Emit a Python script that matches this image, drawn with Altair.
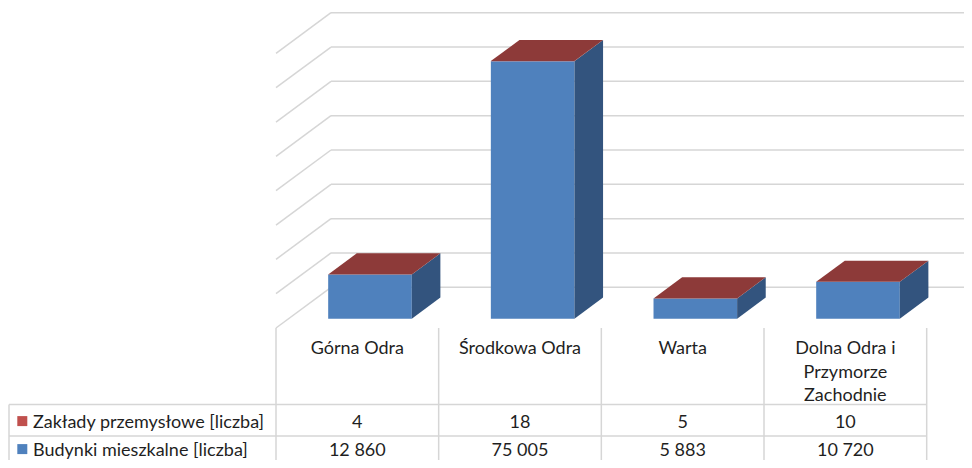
import altair as alt
import pandas as pd

# ---------------- data ----------------
categories = ["Górna Odra", "Środkowa Odra", "Warta", "Dolna Odra i\nPrzymorze\nZachodnie"]
series_names = ["Zakłady przemysłowe [liczba]", "Budynki mieszkalne [liczba]"]
zaklady = [4, 18, 5, 10]
budynki = [12860, 75005, 5883, 10720]
y_ticks = [0, 10000, 20000, 30000, 40000, 50000, 60000, 70000, 80000]

# ---------------- style / layout ----------------
FONT = "Lato"
FS = 18
TEXT_COLOR = "#1F1F1F"
GRID = "#D6D6D6"
FRONT = {series_names[1]: "#4F81BD", series_names[0]: "#C0504D"}
SIDE = {series_names[1]: "#33547E", series_names[0]: "#7E3332"}
TOP = "#8D3A39"
LEGEND = {series_names[0]: "#C0504D", series_names[1]: "#4F81BD"}

W, H = 956, 452
COL_W = 162.67          # pixel width of one category column
BACK_X0 = 323.0         # chart-x of the back wall left edge
Y0_PX, YTOP_PX = 279.3, 4.7   # chart-y of 0 and of 80000 on the back wall
WALL_DX_PX, WALL_DY_PX = 55.0, 40.7
px_per_val = (Y0_PX - YTOP_PX) / (y_ticks[-1] - y_ticks[0])
DXU = WALL_DX_PX / COL_W          # depth shift in category units
DYV = WALL_DY_PX / px_per_val     # depth shift in value units
BH = 0.257                        # half bar width (category units)
FF, FB = 0.77, 0.25               # depth of bar front / back face (0 = back wall, 1 = front)

xs = alt.Scale(domain=[0, 4], range=[BACK_X0, BACK_X0 + 4 * COL_W], nice=False, zero=False)
ys = alt.Scale(domain=[y_ticks[0], y_ticks[-1]], range=[Y0_PX, YTOP_PX], nice=False, zero=False)

# ---------------- geometry tables built from data ----------------
front_rows, side_rows, top_rows = [], [], []
for i, cat in enumerate(categories):
    xc = i + 0.5
    cum = 0
    for s, vals in [(series_names[1], budynki), (series_names[0], zaklady)]:
        v = vals[i]
        y0, y1 = cum, cum + v
        cum = y1
        front_rows.append(dict(series=s, x=xc - BH - FF * DXU, x2=xc + BH - FF * DXU,
                               y=y0 - FF * DYV, y2=y1 - FF * DYV))
        key = f"{i}-{s}"
        side_rows.append(dict(key=key, series=s, x=xc + BH - FF * DXU, y=y0 - FF * DYV, y2=y1 - FF * DYV))
        side_rows.append(dict(key=key, series=s, x=xc + BH - FB * DXU, y=y0 - FB * DYV, y2=y1 - FB * DYV))
    top_rows.append(dict(bar=i, y=cum - FF * DYV, x=xc - BH - FF * DXU, x2=xc + BH - FF * DXU))
    top_rows.append(dict(bar=i, y=cum - FB * DYV, x=xc - BH - FB * DXU, x2=xc + BH - FB * DXU))

front_df = pd.DataFrame(front_rows)
side_df = pd.DataFrame(side_rows)
top_df = pd.DataFrame(top_rows)

grid_df = pd.DataFrame({"v": y_ticks, "x": [0] * len(y_ticks), "x2": [4] * len(y_ticks)})
diag_df = pd.DataFrame({"v": y_ticks, "x": [0] * len(y_ticks),
                        "x2": [-DXU] * len(y_ticks), "v2": [t - DYV for t in y_ticks]})

# ---------------- layers ----------------
grid = alt.Chart(grid_df).mark_rule(color=GRID, strokeWidth=1.5).encode(
    x=alt.X("x:Q", scale=xs, axis=None), x2="x2:Q",
    y=alt.Y("v:Q", scale=ys, axis=None))

diag = alt.Chart(diag_df).mark_rule(color=GRID, strokeWidth=1.5).encode(
    x=alt.X("x:Q", scale=xs, axis=None), x2="x2:Q",
    y=alt.Y("v:Q", scale=ys, axis=None), y2="v2:Q")

front = alt.Chart(front_df).mark_rect().encode(
    x=alt.X("x:Q", scale=xs, axis=None), x2="x2:Q",
    y=alt.Y("y:Q", scale=ys, axis=None), y2="y2:Q",
    color=alt.Color("series:N", scale=alt.Scale(domain=list(FRONT.keys()), range=list(FRONT.values())), legend=None))

side = alt.Chart(side_df).mark_area(orient="vertical", opacity=1).encode(
    x=alt.X("x:Q", scale=xs, axis=None),
    y=alt.Y("y:Q", scale=ys, axis=None), y2="y2:Q",
    detail="key:N",
    fill=alt.Fill("series:N", scale=alt.Scale(domain=list(SIDE.keys()), range=list(SIDE.values())), legend=None))

top = alt.Chart(top_df).mark_area(orient="horizontal", color=TOP, opacity=1).encode(
    y=alt.Y("y:Q", scale=ys, axis=None),
    x=alt.X("x:Q", scale=xs, axis=None), x2="x2:Q",
    detail="bar:N")

# ---------------- data table ----------------
ROW1_Y, ROW2_Y, ROW3_Y = 320.0, 396.5, 428.0
HDR_BASE, HDR_LH = 346.0, 23.5
R1_BASE, R2_BASE = 419.5, 447.5

col_edges = pd.DataFrame({"x": [k - DXU for k in range(5)]})
vlines = alt.Chart(col_edges).mark_rule(color=GRID, strokeWidth=1.5).encode(
    x=alt.X("x:Q", scale=xs, axis=None), y=alt.value(ROW1_Y), y2=alt.value(H))

right_px = BACK_X0 + 4 * COL_W - WALL_DX_PX
hl_df = pd.DataFrame({"y": [ROW2_Y, ROW3_Y]})
hlines = alt.Chart(hl_df).mark_rule(color=GRID, strokeWidth=1.5).encode(
    x=alt.value(1), x2=alt.value(right_px), y=alt.Y("y:Q", scale=None))
leftline = alt.Chart(pd.DataFrame({"a": [0]})).mark_rule(color=GRID, strokeWidth=1.5).encode(
    x=alt.value(1), y=alt.value(ROW2_Y), y2=alt.value(H))

hdr_df = pd.DataFrame({"x": [i + 0.5 - DXU for i in range(4)], "t": categories})
header = alt.Chart(hdr_df).mark_text(font=FONT, fontSize=FS, color=TEXT_COLOR, align="center",
                                     baseline="alphabetic", lineBreak="\n", lineHeight=HDR_LH).encode(
    x=alt.X("x:Q", scale=xs, axis=None), y=alt.value(HDR_BASE), text="t:N")


def fmt(v):
    return f"{v:,}".replace(",", " ")


val_rows = []
for i in range(4):
    val_rows.append(dict(x=i + 0.5 - DXU, y=R1_BASE, t=fmt(zaklady[i])))
    val_rows.append(dict(x=i + 0.5 - DXU, y=R2_BASE, t=fmt(budynki[i])))
vals = alt.Chart(pd.DataFrame(val_rows)).mark_text(font=FONT, fontSize=FS, color=TEXT_COLOR,
                                                   align="center", baseline="alphabetic").encode(
    x=alt.X("x:Q", scale=xs, axis=None), y=alt.Y("y:Q", scale=None), text="t:N")

leg_df = pd.DataFrame({"series": series_names, "y": [R1_BASE, R2_BASE],
                       "ys": [R1_BASE - 6.4, R2_BASE - 6.4]})
leg_sq = alt.Chart(leg_df).mark_square(size=100, opacity=1).encode(
    x=alt.value(14.3), y=alt.Y("ys:Q", scale=None),
    color=alt.Color("series:N", scale=alt.Scale(domain=list(LEGEND.keys()), range=list(LEGEND.values())), legend=None))
leg_tx = alt.Chart(leg_df).mark_text(font=FONT, fontSize=FS, color=TEXT_COLOR, align="left",
                                     baseline="alphabetic").encode(
    x=alt.value(25), y=alt.Y("y:Q", scale=None), text="series:N")

chart = alt.layer(grid, diag, front, side, top, vlines, hlines, leftline, header, vals, leg_sq, leg_tx).resolve_scale(
    color="independent", fill="independent"
).properties(
    width=W, height=H, padding=0, autosize=alt.AutoSizeParams(type="none")
).configure_view(strokeWidth=0)

chart.save("out.html", embed_options={"renderer": "svg", "actions": False})
